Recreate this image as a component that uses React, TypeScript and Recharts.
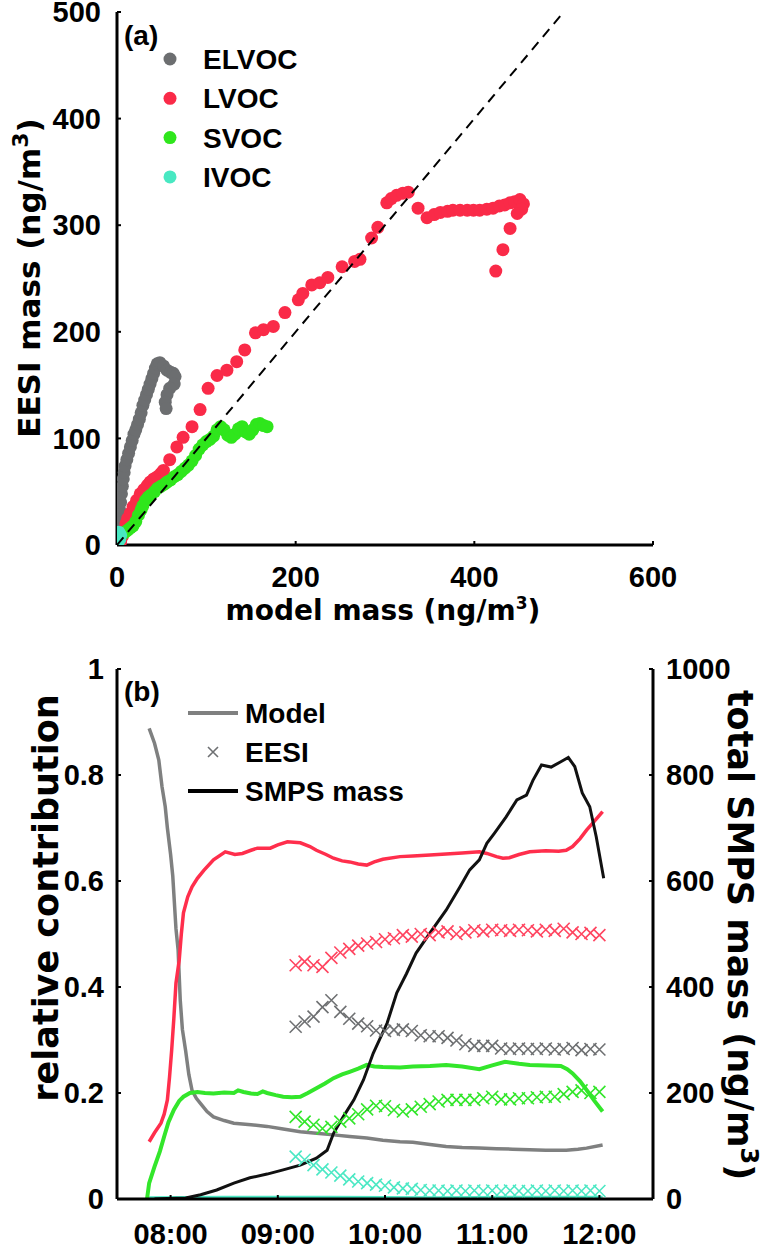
import React from 'react';
import { ScatterChart, Scatter, XAxis, YAxis, ComposedChart, Line, Legend } from 'recharts';

const FONT = '"DejaVu Sans", "Liberation Sans", sans-serif';
const FONT_ARIAL = '"Liberation Sans", Arial, sans-serif';

// ---------- Panel (a): EESI mass vs model mass (ng/m3) ----------
const aXTicks = [0, 200, 400, 600];
const aYTicks = [0, 100, 200, 300, 400, 500];

const elvocPts: [number, number][] = [
  [0, 10], [1, 18], [2, 26], [3, 33], [4, 40], [5, 48], [6, 55], [7, 62], [8, 68], [9, 74],
  [11, 80], [13, 86], [15, 92], [17, 98], [19, 104], [21, 108], [23, 113], [25, 118], [27, 124],
  [29, 131], [31, 136], [33, 141], [35, 146], [37, 151], [39, 156], [41, 161], [43, 166], [45, 170],
  [48, 171], [52, 168], [56, 164], [60, 162], [63, 161], [65, 158], [64, 151], [59, 147], [56, 141],
  [54, 134], [55, 128],
];

const lvocPts: [number, number][] = [
  [2, 0], [4, 3], [6, 8], [8, 14], [10, 20], [12, 25], [15, 30], [18, 36], [22, 42], [26, 48],
  [30, 52], [34, 56], [37, 59], [41, 62], [45, 64], [49, 67], [52, 70], [59, 80], [67, 92],
  [74, 101], [84, 111], [93, 127], [102, 147], [112, 159], [123, 164], [134, 172], [143, 183],
  [155, 199], [164, 202], [175, 205], [188, 218], [203, 230], [208, 236], [218, 244], [227, 246],
  [236, 251], [252, 261], [266, 266], [272, 268], [285, 288], [292, 298], [302, 321], [307, 325],
  [313, 328], [320, 330], [326, 331], [337, 316], [347, 307], [355, 310], [362, 312],
  [370, 313], [376, 314], [384, 314], [392, 314], [399, 314], [406, 314], [414, 315], [421, 316],
  [428, 318], [434, 319], [440, 321], [445, 322], [451, 324], [455, 320], [453, 315], [448, 311],
  [440, 297], [432, 277], [424, 257],
];

const svocPts: [number, number][] = [
  [0, 5], [3, 8], [6, 10], [9, 12], [12, 14], [15, 16], [18, 18], [21, 22], [24, 28], [27, 33],
  [29, 37], [32, 42], [35, 45], [38, 47], [42, 50], [45, 53], [49, 55], [53, 57], [56, 59], [60, 61],
  [64, 64], [68, 66], [72, 69], [76, 72], [80, 75], [84, 79], [88, 84], [92, 90], [96, 94], [100, 97],
  [104, 99], [108, 102], [112, 108], [116, 111], [120, 108], [124, 103], [128, 101], [132, 104],
  [136, 109], [140, 111], [144, 106], [148, 104], [152, 108], [156, 113], [160, 114], [164, 112],
  [168, 111],
];

const ivocPts: [number, number][] = [
  [0, 0], [0, 2], [1, 4], [2, 6], [1, 8], [3, 10], [2, 12], [4, 9], [3, 5], [0, 11],
];

const identityPts: [number, number][] = [[0, 0], [500, 500]];

const aSeries = [
  { name: 'ELVOC', color: '#6c6e70', pts: elvocPts },
  { name: 'LVOC', color: '#fa2a48', pts: lvocPts },
  { name: 'SVOC', color: '#2fe61c', pts: svocPts },
  { name: 'IVOC', color: '#48e8c2', pts: ivocPts },
];

// ---------- Panel (b): relative contribution vs time ----------
const bTimeTicks = [8, 9, 10, 11, 12];
const bLeftTicks = [0, 0.2, 0.4, 0.6, 0.8, 1];
const bRightTicks = [0, 200, 400, 600, 800, 1000];

// model lines: [decimal hour, relative contribution]
const modelElvoc: [number, number][] = [
  [7.8, 0.888], [7.85, 0.86], [7.89, 0.828], [7.92, 0.778], [7.95, 0.74], [7.97, 0.7], [8.0, 0.65],
  [8.02, 0.61], [8.05, 0.51], [8.07, 0.47], [8.09, 0.375], [8.11, 0.32], [8.14, 0.28], [8.17, 0.235],
  [8.2, 0.205], [8.24, 0.19], [8.28, 0.18], [8.34, 0.165], [8.4, 0.155], [8.5, 0.148], [8.59, 0.143],
  [8.75, 0.14], [8.9, 0.137], [9.05, 0.132], [9.21, 0.127], [9.36, 0.124], [9.52, 0.121], [9.67, 0.118],
  [9.83, 0.115], [9.98, 0.111], [10.14, 0.108], [10.26, 0.107], [10.42, 0.103], [10.57, 0.099],
  [10.72, 0.097], [10.88, 0.096], [11.04, 0.095], [11.19, 0.094], [11.35, 0.093], [11.5, 0.092],
  [11.69, 0.092], [11.8, 0.094], [11.88, 0.096], [12.03, 0.102],
];

const modelLvoc: [number, number][] = [
  [7.8, 0.108], [7.85, 0.125], [7.91, 0.143], [7.94, 0.16], [7.97, 0.187], [7.99, 0.23], [8.01, 0.281],
  [8.03, 0.34], [8.05, 0.407], [8.08, 0.45], [8.1, 0.5], [8.12, 0.54], [8.16, 0.57], [8.2, 0.589],
  [8.25, 0.605], [8.31, 0.62], [8.4, 0.64], [8.51, 0.655], [8.6, 0.65], [8.67, 0.652], [8.75, 0.658],
  [8.81, 0.662], [8.93, 0.662], [9.0, 0.668], [9.09, 0.674], [9.21, 0.672], [9.3, 0.665], [9.36, 0.658],
  [9.45, 0.65], [9.52, 0.643], [9.6, 0.638], [9.67, 0.636], [9.75, 0.632], [9.83, 0.63], [9.9, 0.636],
  [9.98, 0.641], [10.14, 0.646], [10.26, 0.647], [10.42, 0.649], [10.57, 0.651], [10.72, 0.653],
  [10.88, 0.655], [10.95, 0.652], [11.04, 0.646], [11.1, 0.643], [11.16, 0.644], [11.25, 0.65],
  [11.35, 0.655], [11.5, 0.657], [11.62, 0.656], [11.69, 0.658], [11.75, 0.665], [11.82, 0.68],
  [11.88, 0.696], [11.95, 0.712], [12.03, 0.731],
];

const modelSvoc: [number, number][] = [
  [7.78, 0.0], [7.8, 0.03], [7.85, 0.061], [7.9, 0.09], [7.94, 0.118], [7.98, 0.145], [8.03, 0.168],
  [8.08, 0.185], [8.12, 0.193], [8.18, 0.2], [8.25, 0.202], [8.32, 0.2], [8.4, 0.199], [8.5, 0.201],
  [8.59, 0.2], [8.63, 0.205], [8.68, 0.202], [8.75, 0.199], [8.81, 0.198], [8.86, 0.203], [8.9, 0.2],
  [8.98, 0.196], [9.05, 0.193], [9.13, 0.192], [9.21, 0.193], [9.28, 0.2], [9.36, 0.209], [9.44, 0.218],
  [9.52, 0.228], [9.6, 0.235], [9.67, 0.24], [9.75, 0.246], [9.83, 0.253], [9.9, 0.25], [9.98, 0.249],
  [10.14, 0.248], [10.26, 0.25], [10.42, 0.251], [10.57, 0.253], [10.72, 0.25], [10.88, 0.245],
  [11.0, 0.252], [11.12, 0.259], [11.25, 0.255], [11.35, 0.253], [11.5, 0.252], [11.64, 0.251],
  [11.7, 0.245], [11.75, 0.237], [11.82, 0.222], [11.88, 0.206], [11.95, 0.186], [12.03, 0.165],
];

const modelIvoc: [number, number][] = [
  [7.8, 0.002], [8.5, 0.003], [9.5, 0.003], [10.5, 0.002], [11.5, 0.003], [12.03, 0.003],
];

// SMPS total mass (ng/m3), right axis
const smpsMass: [number, number][] = [
  [7.85, 0], [7.97, 1], [8.14, 2], [8.28, 8], [8.43, 17], [8.59, 30], [8.74, 40], [8.9, 47], [9.05, 55],
  [9.21, 64], [9.36, 77], [9.46, 92], [9.52, 124], [9.61, 155], [9.71, 187], [9.8, 225], [9.89, 275],
  [10.02, 332], [10.11, 389], [10.2, 425], [10.29, 464], [10.42, 502], [10.57, 545], [10.7, 589],
  [10.79, 621], [10.88, 640], [10.95, 671], [11.02, 690], [11.13, 721], [11.23, 753], [11.32, 762],
  [11.38, 790], [11.46, 819], [11.55, 815], [11.64, 825], [11.71, 833], [11.77, 816], [11.84, 766],
  [11.91, 740], [11.97, 684], [12.04, 605],
];

// EESI measurements (x markers)
const eesiTimes = [
  '09:10', '09:15', '09:20', '09:25', '09:30', '09:35', '09:40', '09:45', '09:50', '09:55',
  '10:00', '10:05', '10:10', '10:15', '10:20', '10:25', '10:30', '10:35', '10:40', '10:45', '10:50', '10:55',
  '11:00', '11:05', '11:10', '11:15', '11:20', '11:25', '11:30', '11:35', '11:40', '11:45', '11:50', '11:55',
  '12:00',
];
const eesiLvoc = [
  0.441, 0.448, 0.441, 0.438, 0.455, 0.465, 0.472, 0.478, 0.482, 0.485,
  0.49, 0.492, 0.498, 0.495, 0.5, 0.498, 0.503, 0.505, 0.5, 0.503, 0.507, 0.505,
  0.508, 0.507, 0.506, 0.508, 0.507, 0.505, 0.508, 0.506, 0.51, 0.503, 0.5, 0.502,
  0.498,
];
const eesiElvoc = [
  0.325, 0.335, 0.344, 0.362, 0.375, 0.353, 0.34, 0.331, 0.326, 0.318,
  0.317, 0.319, 0.32, 0.317, 0.309, 0.307, 0.307, 0.304, 0.299, 0.292, 0.289, 0.289,
  0.289, 0.284, 0.283, 0.284, 0.283, 0.283, 0.284, 0.282, 0.283, 0.285, 0.281, 0.283,
  0.282,
];
const eesiSvoc = [
  0.155, 0.146, 0.14, 0.133, 0.136, 0.146, 0.152, 0.16, 0.169, 0.176,
  0.175, 0.168, 0.165, 0.169, 0.174, 0.179, 0.184, 0.187, 0.187, 0.187, 0.187, 0.19,
  0.193, 0.188, 0.188, 0.19, 0.19, 0.192, 0.193, 0.193, 0.198, 0.202, 0.205, 0.2,
  0.202,
];
const eesiIvoc = [
  0.08, 0.074, 0.064, 0.056, 0.05, 0.044, 0.037, 0.033, 0.03, 0.027,
  0.025, 0.022, 0.02, 0.019, 0.017, 0.016, 0.016, 0.015, 0.016, 0.015, 0.016, 0.015,
  0.016, 0.015, 0.016, 0.015, 0.015, 0.016, 0.015, 0.016, 0.015, 0.016, 0.015, 0.016,
  0.015,
];

// ---------- helpers ----------
const toXY = (pts: [number, number][]) => pts.map(([x, y]) => ({ x, y }));
const toTV = (pts: [number, number][]) => pts.map(([t, v]) => ({ t, v }));
const hhmmToHours = (s: string) => {
  const [h, m] = s.split(':').map(Number);
  return h + m / 60;
};
const eesiSeries = (vals: number[]) => eesiTimes.map((s, i) => ({ t: hhmmToHours(s), v: vals[i] }));
const fmtTime = (h: number) => `${String(h).padStart(2, '0')}:00`;

const axisLine = { stroke: '#000', strokeWidth: 3 };
const tickLine = { stroke: '#000', strokeWidth: 2 };
const tickFont = { fontSize: 29, fontWeight: 'bold', fill: '#000', fontFamily: FONT_ARIAL } as any;

const dotShape = (color: string) => (p: any) => <circle cx={p.cx} cy={p.cy} r={6.5} fill={color} />;
const xShape = (color: string) => (p: any) => {
  const h = 6;
  const { cx, cy } = p;
  return (
    <path
      d={`M${cx - h},${cy - h}L${cx + h},${cy + h}M${cx - h},${cy + h}L${cx + h},${cy - h}`}
      stroke={color}
      strokeWidth={1.6}
      fill="none"
    />
  );
};
const noShape = () => <g />;

const titleStyle = { fontFamily: FONT, fontWeight: 'bold', fill: '#000' } as any;
const legStyle = { fontFamily: FONT_ARIAL, fontWeight: 'bold', fill: '#000' } as any;

const legendA = () => (
  <svg width={768} height={220} style={{ display: 'block' }}>
    <text x={124} y={45} fontSize={28} {...legStyle}>(a)</text>
    {aSeries.map((s, i) => (
      <g key={s.name}>
        <circle cx={170} cy={59 + i * 39.3} r={6.5} fill={s.color} />
        <text x={203} y={59 + i * 39.3 + 10} fontSize={28} {...legStyle}>{s.name}</text>
      </g>
    ))}
  </svg>
);

const legendB = () => (
  <svg width={768} height={200} style={{ display: 'block' }}>
    <text x={124} y={61} fontSize={28} {...legStyle}>(b)</text>
    <line x1={188} x2={238} y1={73} y2={73} stroke="#7f8080" strokeWidth={4} />
    <text x={245} y={83} fontSize={28} {...legStyle}>Model</text>
    <path d="M208,107L218,117M208,117L218,107" stroke="#6e7072" strokeWidth={1.6} fill="none" />
    <text x={245} y={122} fontSize={28} {...legStyle}>EESI</text>
    <line x1={188} x2={238} y1={151} y2={151} stroke="#000" strokeWidth={4} />
    <text x={245} y={161} fontSize={28} {...legStyle}>SMPS mass</text>
  </svg>
);

const PanelA = () => (
  <ScatterChart width={768} height={640} margin={{ top: 12, right: 115, bottom: 55, left: 57 }}>
    <XAxis
      xAxisId="b" type="number" dataKey="x" domain={[0, 600]} ticks={aXTicks} interval={0}
      allowDataOverflow height={40} axisLine={axisLine} tickLine={tickLine} tickSize={-4}
      tickMargin={25} tick={tickFont}
      label={() => (
        <text x={383} y={620} textAnchor="middle" fontSize={28} {...titleStyle}>
          model mass (ng/m<tspan dy={-11} fontSize={17}>3</tspan><tspan dy={11}>)</tspan>
        </text>
      )}
    />
    <XAxis
      xAxisId="t" orientation="top" type="number" dataKey="x" domain={[0, 600]} ticks={aXTicks}
      interval={0} allowDataOverflow height={0} mirror axisLine={axisLine} tickLine={tickLine}
      tickSize={4} tick={false}
    />
    <YAxis
      yAxisId="l" type="number" dataKey="y" domain={[0, 500]} ticks={aYTicks} interval={0}
      allowDataOverflow width={60} axisLine={axisLine} tickLine={tickLine} tickSize={-4}
      tickMargin={20} tick={tickFont}
      label={() => (
        <text transform="translate(40,278) rotate(-90)" textAnchor="middle" fontSize={31} {...titleStyle}>
          EESI mass (ng/m<tspan dy={-12} fontSize={22}>3</tspan><tspan dy={12}>)</tspan>
        </text>
      )}
    />
    <YAxis
      yAxisId="r" orientation="right" type="number" dataKey="y" domain={[0, 500]} ticks={aYTicks}
      interval={0} allowDataOverflow width={0} mirror axisLine={axisLine} tickLine={tickLine}
      tickSize={4} tick={false}
    />
    {aSeries.map((s) => (
      <Scatter
        key={s.name} name={s.name} xAxisId="b" yAxisId="l" data={toXY(s.pts)}
        shape={dotShape(s.color)} isAnimationActive={false}
      />
    ))}
    <Scatter
      name="1:1" xAxisId="b" yAxisId="l" data={toXY(identityPts)} shape={noShape}
      line={{ stroke: '#000', strokeWidth: 2, strokeDasharray: '10 7' }} isAnimationActive={false}
    />
    <Legend
      layout="horizontal" verticalAlign="middle" align="center" content={legendA}
      wrapperStyle={{ position: 'absolute', left: 0, top: 0, width: 768, height: 220, margin: 0 }}
    />
  </ScatterChart>
);

const PanelB = () => (
  <ComposedChart width={768} height={610} margin={{ top: 29, right: 55, bottom: 11, left: 57 }}>
    <XAxis
      xAxisId="b" type="number" dataKey="t" domain={[7.5, 12.5]} ticks={bTimeTicks} interval={0}
      allowDataOverflow height={40} axisLine={axisLine} tickLine={tickLine} tickSize={-4}
      tickMargin={28} tick={tickFont} tickFormatter={fmtTime}
    />
    <XAxis
      xAxisId="t" orientation="top" type="number" dataKey="t" domain={[7.5, 12.5]} ticks={bTimeTicks}
      interval={0} allowDataOverflow height={0} mirror axisLine={axisLine} tickLine={tickLine}
      tickSize={4} tick={false}
    />
    <YAxis
      yAxisId="l" type="number" domain={[0, 1]} ticks={bLeftTicks} interval={0} allowDataOverflow
      width={60} axisLine={axisLine} tickLine={tickLine} tickSize={-4} tickMargin={17} tick={tickFont}
      label={() => (
        <text transform="translate(58,258) rotate(-90)" textAnchor="middle" fontSize={35} {...titleStyle}>
          relative contribution
        </text>
      )}
    />
    <YAxis
      yAxisId="r" orientation="right" type="number" domain={[0, 1000]} ticks={bRightTicks} interval={0}
      allowDataOverflow width={60} axisLine={axisLine} tickLine={tickLine} tickSize={-4} tickMargin={17}
      tick={tickFont}
      label={() => (
        <text transform="translate(728,295) rotate(90)" textAnchor="middle" fontSize={35} {...titleStyle}>
          total SMPS mass (ng/m<tspan dy={-13} fontSize={24}>3</tspan><tspan dy={13}>)</tspan>
        </text>
      )}
    />
    <Line xAxisId="b" yAxisId="l" data={toTV(modelIvoc)} dataKey="v" stroke="#4ce8c4" strokeWidth={3.5} dot={false} isAnimationActive={false} />
    <Line xAxisId="b" yAxisId="l" data={toTV(modelElvoc)} dataKey="v" stroke="#7f8080" strokeWidth={3.5} dot={false} isAnimationActive={false} />
    <Line xAxisId="b" yAxisId="l" data={toTV(modelLvoc)} dataKey="v" stroke="#ff2e4c" strokeWidth={3.5} dot={false} isAnimationActive={false} />
    <Line xAxisId="b" yAxisId="l" data={toTV(modelSvoc)} dataKey="v" stroke="#33e62b" strokeWidth={4} dot={false} isAnimationActive={false} />
    <Scatter xAxisId="b" yAxisId="l" data={eesiSeries(eesiElvoc)} dataKey="v" shape={xShape('#6e7072')} isAnimationActive={false} />
    <Scatter xAxisId="b" yAxisId="l" data={eesiSeries(eesiLvoc)} dataKey="v" shape={xShape('#ff4560')} isAnimationActive={false} />
    <Scatter xAxisId="b" yAxisId="l" data={eesiSeries(eesiSvoc)} dataKey="v" shape={xShape('#33e62b')} isAnimationActive={false} />
    <Scatter xAxisId="b" yAxisId="l" data={eesiSeries(eesiIvoc)} dataKey="v" shape={xShape('#4ce8c4')} isAnimationActive={false} />
    <Line xAxisId="b" yAxisId="r" data={toTV(smpsMass)} dataKey="v" stroke="#111" strokeWidth={3} dot={false} isAnimationActive={false} />
    <Legend
      layout="horizontal" verticalAlign="middle" align="center" content={legendB}
      wrapperStyle={{ position: 'absolute', left: 0, top: 0, width: 768, height: 200, margin: 0 }}
    />
  </ComposedChart>
);

export default function App() {
  return (
    <div style={{ position: 'absolute', left: 0, top: 0, width: 768, height: 1250, background: '#fff' }}>
      <div style={{ position: 'absolute', left: 0, top: 0 }}>
        <PanelA />
      </div>
      <div style={{ position: 'absolute', left: 0, top: 640 }}>
        <PanelB />
      </div>
    </div>
  );
}
